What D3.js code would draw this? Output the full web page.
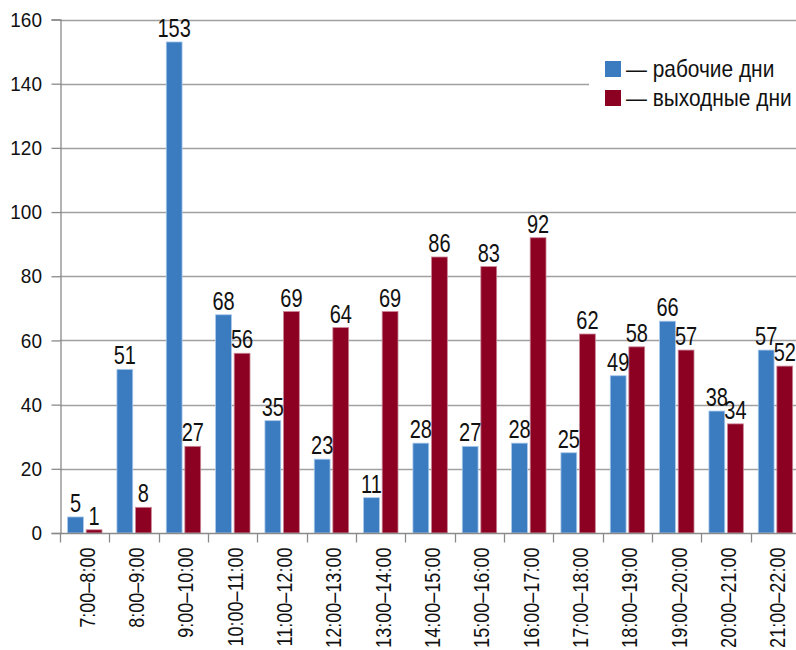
<!DOCTYPE html>
<html><head><meta charset="utf-8">
<script src="https://cdn.jsdelivr.net/npm/d3@7"></script>
<style>
html,body{margin:0;padding:0;background:#fff;}
svg{display:block;font-family:"Liberation Sans",Arial,sans-serif;}
</style></head>
<body><svg id="c" width="796" height="650"></svg>
<script>
const categories = ["7:00–8:00","8:00–9:00","9:00–10:00","10:00–11:00","11:00–12:00","12:00–13:00","13:00–14:00","14:00–15:00","15:00–16:00","16:00–17:00","17:00–18:00","18:00–19:00","19:00–20:00","20:00–21:00","21:00–22:00"];
const workdays = [5,51,153,68,35,23,11,28,27,28,25,49,66,38,57];
const weekends = [1,8,27,56,69,64,69,86,83,92,62,58,57,34,52];
const seriesNames = ["— рабочие дни","— выходные дни"];
const yTicks = [0,20,40,60,80,100,120,140,160];
const colors = ["#3b7cc1","#8c0022"];
const strokes = ["#a8c8ec","#c98494"];

const svg = d3.select("#c");
const pL = 60, pR = 800, pT = 19.5, pB = 533;
const x = d3.scaleBand().domain(categories).range([pL, pR]);
const y = d3.scaleLinear().domain([0,160]).range([pB, pT]);
const inner = d3.scaleBand().domain([0,1]).range([7.6, 42]).paddingInner(0.15);

// gridlines
svg.append("g").selectAll("line").data(yTicks.filter(d=>d>0)).join("line")
  .attr("x1", pL).attr("x2", pR).attr("y1", d=>Math.round(y(d))+0.5).attr("y2", d=>Math.round(y(d))+0.5)
  .attr("stroke","#a0a0a0").attr("stroke-width",1.3);

// y axis
const yAxis = svg.append("g").attr("transform",`translate(${pL+0.5},0)`)
  .call(d3.axisLeft(y).tickValues(yTicks).tickSize(9).tickFormat(""));
yAxis.select(".domain").attr("stroke","#8a8a8a").attr("stroke-width",1.3);
yAxis.selectAll(".tick line").attr("stroke","#8a8a8a").attr("stroke-width",1.3);
yAxis.selectAll(".tick text").remove();
svg.append("g").selectAll("text").data(yTicks).join("text")
  .attr("transform",d=>`translate(42,${y(d)}) scale(0.95,1)`)
  .attr("text-anchor","end").attr("dy","0.36em")
  .attr("font-size",20).attr("fill","#111").text(d=>d);

// bars
const series = [workdays, weekends];
series.forEach((vals, si) => {
  svg.append("g").selectAll("rect").data(vals).join("rect")
    .attr("x",(d,i)=>x(categories[i])+inner(si))
    .attr("width",inner.bandwidth())
    .attr("y",d=>y(d))
    .attr("height",d=>pB-y(d))
    .attr("fill",colors[si])
    .attr("stroke",strokes[si]).attr("stroke-width",0.8);
});

// x axis
const xAxisG = svg.append("g").attr("transform",`translate(0,${pB+0.5})`);
xAxisG.append("line").attr("x1",pL).attr("x2",pR).attr("stroke","#8a8a8a").attr("stroke-width",1.3);
const bounds = categories.map(c=>x(c)).concat([pR]);
xAxisG.selectAll("line.tk").data(bounds).join("line").attr("class","tk")
  .attr("x1",d=>Math.round(d)+0.5).attr("x2",d=>Math.round(d)+0.5).attr("y1",0).attr("y2",9)
  .attr("stroke","#8a8a8a").attr("stroke-width",1.3);
xAxisG.selectAll("text").data(categories).join("text")
  .attr("transform",d=>`translate(${x(d)+x.bandwidth()/2+2.5},14) rotate(-90) scale(0.84,1)`)
  .attr("text-anchor","end").attr("dy","0.35em")
  .attr("font-size",21.5).attr("fill","#111").text(d=>d);

// value labels
series.forEach((vals, si) => {
  svg.append("g").selectAll("text").data(vals).join("text")
    .attr("transform",(d,i)=>`translate(${x(categories[i])+inner(si)+inner.bandwidth()/2},${y(d)-5}) scale(0.8,1)`)
    .attr("text-anchor","middle").attr("font-size",25).attr("fill","#111")
    .text(d=>d);
});

// legend
const lg = svg.append("g");
lg.append("rect").attr("x",589).attr("y",52).attr("width",211).attr("height",64).attr("fill","#fff");
seriesNames.forEach((n,i)=>{
  lg.append("rect").attr("x",605).attr("y",61+i*29).attr("width",16).attr("height",16).attr("fill",colors[i]);
  lg.append("text").attr("transform",`translate(626,${76.5+i*29}) scale(0.87,1)`)
    .attr("font-size",24).attr("fill","#111").text(n);
});
</script></body></html>
